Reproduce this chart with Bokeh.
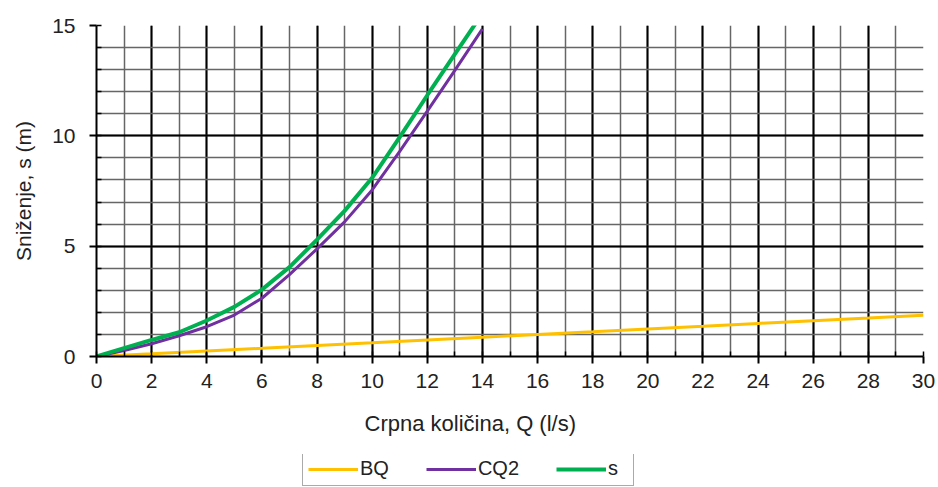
from bokeh.plotting import figure
from bokeh.layouts import column
from bokeh.models import Range1d, SingleIntervalTicker, Legend, LegendItem, Title
from bokeh.embed import file_html
from bokeh.resources import INLINE

# --- data ---
q_bq = [0, 2, 4, 6, 8, 10, 12, 14, 16, 18, 20, 22, 24, 26, 28, 30]
s_bq = [0, 0.12, 0.25, 0.37, 0.50, 0.62, 0.75, 0.87, 1.00, 1.12, 1.25, 1.37, 1.50, 1.62, 1.74, 1.87]

q_curve = [0, 1, 2, 3, 4, 5, 6, 7, 8, 9, 10, 11, 12, 13, 14]
s_cq2 = [0, 0.27, 0.58, 0.94, 1.35, 1.88, 2.64, 3.71, 4.88, 6.10, 7.55, 9.30, 11.12, 12.97, 14.85]
s_total = [0, 0.38, 0.75, 1.10, 1.63, 2.25, 3.03, 4.05, 5.30, 6.60, 8.10, 9.94, 11.84, 13.70, 15.55]

series_names = ["BQ", "CQ2", "s"]
series_colors = ["#FFC000", "#7030A0", "#00B050"]
series_widths = [3, 3, 4]

FONT = "Liberation Sans"
TXT = "#222222"

p = figure(width=938, height=454, output_backend="svg", toolbar_location=None,
           x_range=Range1d(0, 30), y_range=Range1d(0, 15),
           min_border_left=96, min_border_right=15, min_border_top=25, min_border_bottom=97)
p.outline_line_color = None
p.background_fill_color = "white"
p.border_fill_color = "white"

# grids
p.xaxis.ticker = SingleIntervalTicker(interval=2, num_minor_ticks=2)
p.yaxis.ticker = SingleIntervalTicker(interval=5, num_minor_ticks=5)
p.xgrid.ticker = SingleIntervalTicker(interval=2, num_minor_ticks=2)
p.ygrid.ticker = SingleIntervalTicker(interval=5, num_minor_ticks=5)
for g in (p.xgrid, p.ygrid):
    g.grid_line_color = "#000000"
    g.grid_line_width = 2
    g.minor_grid_line_color = "#666666"
    g.minor_grid_line_width = 1.5

# axes
for ax in (p.xaxis, p.yaxis):
    ax.axis_line_color = "#000000"
    ax.axis_line_width = 2
    ax.major_tick_line_color = "#000000"
    ax.major_tick_line_width = 2
    ax.major_tick_out = 7
    ax.major_tick_in = 0
    ax.minor_tick_line_color = "#000000"
    ax.minor_tick_line_width = 1.5
    ax.minor_tick_in = 5
    ax.minor_tick_out = 0
    ax.major_label_text_font = FONT
    ax.major_label_text_font_size = "21px"
    ax.major_label_text_color = TXT
    ax.axis_label_text_font = FONT
    ax.axis_label_text_font_size = "21px"
    ax.axis_label_text_font_style = "normal"
    ax.axis_label_text_color = TXT

p.xaxis.major_label_standoff = 10
p.yaxis.major_label_standoff = 14
p.yaxis.axis_label = "Sniženje, s (m)"
p.yaxis.axis_label_standoff = 14

# lines
r_bq = p.line(q_bq, s_bq, line_color=series_colors[0], line_width=series_widths[0])
r_cq2 = p.line(q_curve, s_cq2, line_color=series_colors[1], line_width=series_widths[1])
r_s = p.line(q_curve, s_total, line_color=series_colors[2], line_width=series_widths[2])

# x axis title
xt = Title(text="Crpna količina, Q (l/s)", align="left", offset=268, standoff=37,
           text_font=FONT, text_font_size="22px", text_font_style="normal", text_color=TXT)
p.add_layout(xt, "below")

# legend strip below the chart (its lines use the same data, kept out of view)
lf = figure(width=938, height=33, output_backend="svg", toolbar_location=None,
            x_axis_type=None, y_axis_type=None, min_border=0,
            x_range=Range1d(100, 101), y_range=Range1d(100, 101))
lf.outline_line_color = None
lf.grid.visible = False
items = []
for name, col, w, xs, ys in zip(series_names, series_colors, series_widths,
                                [q_bq, q_curve, q_curve], [s_bq, s_cq2, s_total]):
    rr = lf.line(x=xs, y=ys, line_color=col, line_width=w)
    items.append(LegendItem(label=name, renderers=[rr]))

legend = Legend(items=items, orientation="horizontal", location=(206, 1),
                glyph_width=50, glyph_height=16, label_standoff=2, spacing=37,
                padding=5, label_text_font=FONT, label_text_font_size="20px",
                label_text_color=TXT, border_line_color="#555555", border_line_width=1.5,
                background_fill_color="white", background_fill_alpha=1.0)
lf.add_layout(legend, "center")

layout = column(p, lf, spacing=0)
open("out.html", "w").write(file_html(layout, INLINE))
